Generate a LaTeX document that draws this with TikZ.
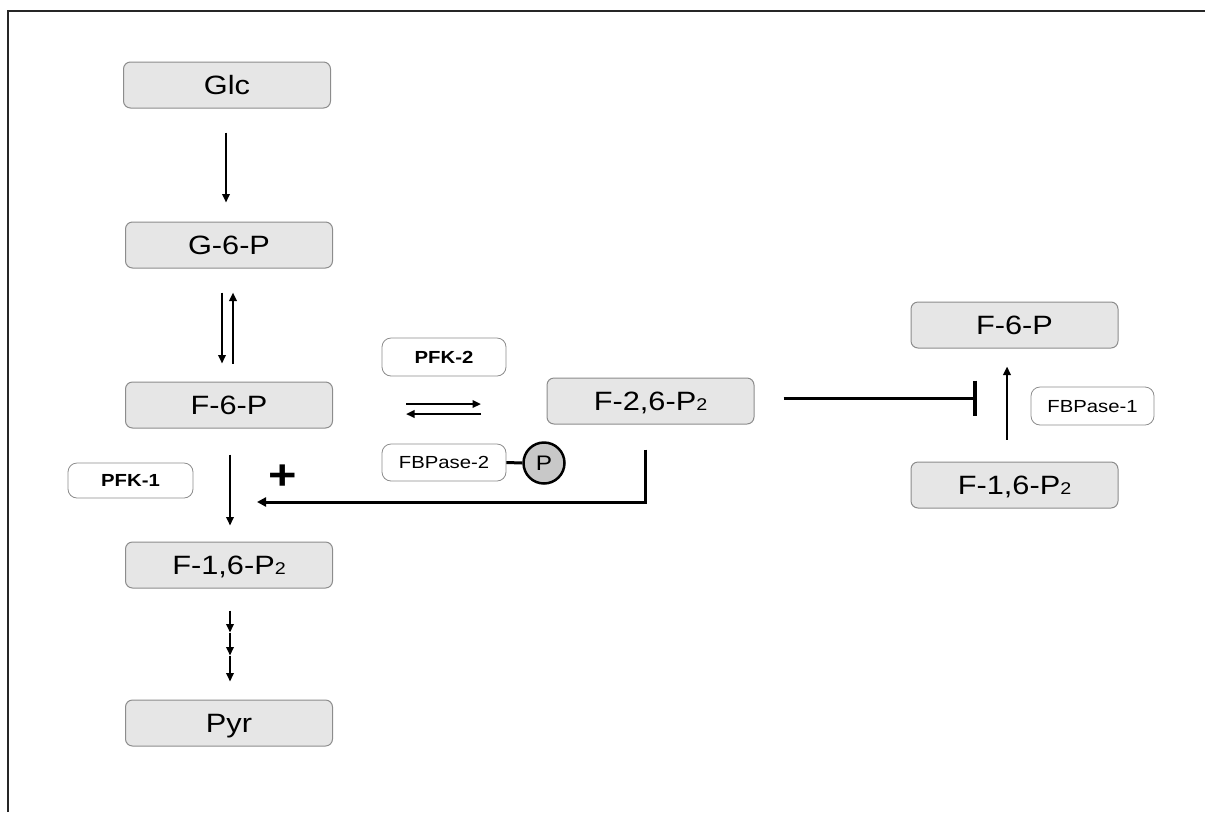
\documentclass[tikz,border=0pt]{standalone}
\usepackage{fontspec}
\setmainfont[FakeStretch=1.16]{Liberation Sans}
\usetikzlibrary{arrows.meta,calc}
\definecolor{boxfill}{HTML}{E6E6E6}
\definecolor{boxline}{HTML}{8C8C8C}
\definecolor{pfill}{HTML}{C8C8C8}
\newcommand{\subtwo}{{\fontsize{17}{17}\selectfont 2}}
\begin{document}
\begin{tikzpicture}[x=1pt,y=-1pt,
  met/.style={rectangle, rounded corners=7pt, draw=boxline, fill=boxfill, line width=1pt,
    minimum width=207pt, minimum height=46pt, inner sep=0pt,
    text height=18.8pt, text depth=0pt, font=\fontsize{26.5}{26.5}\selectfont},
  enz/.style={rectangle, rounded corners=9pt, draw=boxline, fill=white, line width=0.8pt,
    minimum width=124pt, minimum height=37pt, inner sep=0pt,
    text height=12.5pt, text depth=0pt, font=\fontsize{17.5}{17.5}\selectfont},
  arr/.style={line width=2.3pt, -{Triangle[length=8.5pt,width=7.5pt]}},
  fbarr/.style={line width=3pt, -{Triangle[length=9pt,width=9pt]}},
  inh/.style={line width=3pt, -{Bar[width=35pt,line width=4pt]}}]
\useasboundingbox (0,0) rectangle (1205,812);
\draw[line width=1.3pt, black!85] (8,812) -- (8,11) -- (1205,11);

% metabolites, left column
\node[met] (glc) at (227,85) {Glc};
\node[met] (g6p) at (229,245) {G-6-P};
\node[met] (f6p) at (229,405) {F-6-P};
\node[met] (f16) at (229,565) {F-1,6-P\subtwo};
\node[met] (pyr) at (229,723) {Pyr};
% middle
\node[met] (f26) at (650.5,401) {F-2,6-P\subtwo};
% right
\node[met] (f6pr) at (1014.5,325) {F-6-P};
\node[met] (f16r) at (1014.5,485) {F-1,6-P\subtwo};

% enzymes
\node[enz, minimum width=125pt, minimum height=35pt, font=\bfseries\fontsize{17.5}{17.5}\selectfont] (pfk1) at (130.5,480.5) {PFK-1};
\node[enz, minimum height=38pt, font=\bfseries\fontsize{17.5}{17.5}\selectfont] (pfk2) at (444,357) {PFK-2};
\node[enz] (fbp2) at (444,462.5) {FBPase-2};
\node[enz, minimum width=123pt, minimum height=38pt] (fbp1) at (1092.5,406) {FBPase-1};
\node[circle, draw=black, fill=pfill, line width=2.5pt, minimum size=41pt, inner sep=0pt,
  text height=15pt, text depth=0pt, font=\fontsize{21}{21}\selectfont] (pc) at (544,463) {P};
\draw[line width=3pt] (fbp2.east) -- (pc.west);

% plus sign
\node[font=\bfseries\fontsize{42}{42}\selectfont, inner sep=0pt] (plus) at (283,477) {+};

% connectors
\draw[arr, shorten <=24pt, shorten >=19pt] ([xshift=-1pt]glc.south) -- ([xshift=-3pt]g6p.north);
\draw[arr, shorten <=24pt, shorten >=18pt] ([xshift=-7pt]g6p.south) -- ([xshift=-7pt]f6p.north);
\draw[arr, shorten <=18pt, shorten >=24pt] ([xshift=4pt]f6p.north) -- ([xshift=4pt]g6p.south);
\draw[arr, shorten <=26pt, shorten >=16pt] ([xshift=1pt]f6p.south) -- ([xshift=1pt]f16.north);

\path ([xshift=1pt]f16.south) ++(0,22) coordinate (d0) ++(0,22) coordinate (d1) ++(0,23) coordinate (d2) ++(0,26) coordinate (d3);
\draw[arr] (d0) -- (d1);
\draw[arr] (d1) -- (d2);
\draw[arr] (d2) -- (d3);

\coordinate (eqL) at (406,409);
\coordinate (eqR) at (481,409);
\draw[arr] ([yshift=5pt]eqL) -- ([yshift=5pt]eqR);
\draw[arr] ([yshift=-5pt]eqR) -- ([yshift=-5pt]eqL);

\coordinate (fbtip) at (257,502);
\draw[fbarr] ([xshift=-5.5pt,yshift=-25pt]f26.south) |- (fbtip);

\coordinate (inhE) at (977,398);
\draw[inh, shorten <=29pt] ([yshift=3pt]f26.east) -- (inhE);

\draw[arr, shorten <=22pt, shorten >=18pt] ([xshift=-7.5pt]f16r.north) -- ([xshift=-7.5pt]f6pr.south);
\end{tikzpicture}
\end{document}
